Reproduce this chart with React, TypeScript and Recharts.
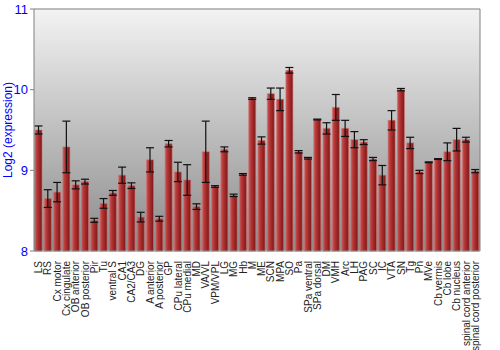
import { Bar, BarChart, CartesianGrid, ErrorBar, ReferenceLine, XAxis, YAxis } from "recharts";

const regions = [
  "LS", "RS", "Cx motor", "Cx cingulate", "OB anterior", "OB posterior", "Pir", "Tu",
  "ventral S", "CA1", "CA2/CA3", "DG", "A anterior", "A posterior", "GP", "CPu lateral",
  "CPu medial", "MD", "VA/VL", "VPM/VPL", "LG", "MG", "Hb", "M", "ME", "SCN", "MPA", "SO",
  "Pa", "SPa ventral", "SPa dorsal", "DM", "VMH", "Arc", "LH", "PAG", "SC", "IC", "VTA",
  "SN", "Tg", "Pn", "MVe", "Cb vermis", "Cb lobe", "Cb nucleus", "spinal cord anterior",
  "spinal cord posterior",
];

const expression = [
  9.5, 8.65, 8.73, 9.29, 8.82, 8.86, 8.38, 8.59, 8.72, 8.94, 8.81, 8.42, 9.13, 8.4, 9.33,
  8.98, 8.88, 8.55, 9.23, 8.8, 9.26, 8.69, 8.95, 9.89, 9.37, 9.95, 9.88, 10.24, 9.23, 9.15,
  9.63, 9.52, 9.78, 9.52, 9.38, 9.35, 9.14, 8.94, 9.62, 10.0, 9.34, 8.98, 9.1, 9.14, 9.23,
  9.38, 9.38, 8.99,
];

const stdErr = [
  0.05, 0.11, 0.12, 0.32, 0.05, 0.03, 0.025, 0.06, 0.03, 0.1, 0.035, 0.06, 0.15, 0.03, 0.04,
  0.12, 0.19, 0.035, 0.38, 0.01, 0.03, 0.015, 0.01, 0.01, 0.045, 0.07, 0.14, 0.035, 0.015,
  0.01, 0.005, 0.07, 0.16, 0.1, 0.1, 0.03, 0.02, 0.12, 0.12, 0.015, 0.07, 0.02, 0.005, 0.005,
  0.11, 0.14, 0.03, 0.02,
];

const yTicks = [8, 9, 10, 11];

const data = regions.map((name, i) => ({ name, value: expression[i], err: stdErr[i] }));

const FONT = "'Liberation Sans', Arial, sans-serif";

function RegionTick({ x, y, payload }: { x?: number; y?: number; payload?: { value: string } }) {
  const ty = (y ?? 0) + 2;
  return (
    <text
      x={x}
      y={ty}
      transform={`rotate(-90, ${x}, ${ty})`}
      textAnchor="end"
      dy="0.35em"
      fontSize={10}
      fill="#222"
      fontFamily={FONT}
    >
      {payload?.value}
    </text>
  );
}

export default function App() {
  return (
    <div style={{ position: "absolute", left: 0, top: 0, width: 500, height: 350, background: "#fff" }}>
      <BarChart
        width={500}
        height={350}
        data={data}
        margin={{ top: 9, right: 0, bottom: 0, left: 0 }}
        barCategoryGap={1}
      >
        <defs>
          <linearGradient id="bg" x1="0" y1="0" x2="0" y2="1">
            <stop offset="0%" stopColor="#f3f3f3" />
            <stop offset="100%" stopColor="#8a8a8a" />
          </linearGradient>
          <linearGradient id="barFill" x1="0" y1="0" x2="1" y2="0">
            <stop offset="0%" stopColor="#c85a5a" />
            <stop offset="35%" stopColor="#b43434" />
            <stop offset="100%" stopColor="#7c1616" />
          </linearGradient>
        </defs>
        <CartesianGrid vertical={false} fill="url(#bg)" stroke="#f4f4f4" strokeWidth={1.5} fillOpacity={1} />
        <XAxis
          dataKey="name"
          interval={0}
          height={99}
          tick={<RegionTick />}
          tickLine={false}
          axisLine={{ stroke: "#808080" }}
        />
        <YAxis
          yAxisId="left"
          domain={[8, 11]}
          ticks={yTicks}
          width={34}
          tick={{ fill: "#0000ff", fontSize: 13, fontFamily: FONT }}
          tickSize={4}
          tickLine={{ stroke: "#808080" }}
          axisLine={{ stroke: "#808080" }}
          label={{
            value: "Log2 (expression)",
            angle: -90,
            position: "insideLeft",
            offset: 8,
            style: { fill: "#0000ff", fontSize: 12, fontFamily: FONT, textAnchor: "middle" },
          }}
        />
        <YAxis
          yAxisId="right"
          orientation="right"
          domain={[8, 11]}
          ticks={yTicks}
          width={20}
          tick={{ fill: "#0000ff", fontSize: 13, fontFamily: FONT }}
          tickSize={4}
          tickLine={{ stroke: "#808080" }}
          axisLine={{ stroke: "#808080" }}
        />
        <ReferenceLine yAxisId="left" y={11} stroke="#808080" />
        <Bar
          yAxisId="left"
          dataKey="value"
          fill="url(#barFill)"
          stroke="#d07070"
          strokeOpacity={0.6}
          isAnimationActive={false}
        >
          <ErrorBar dataKey="err" width={4} stroke="#111" strokeWidth={1.2} />
        </Bar>
      </BarChart>
    </div>
  );
}
